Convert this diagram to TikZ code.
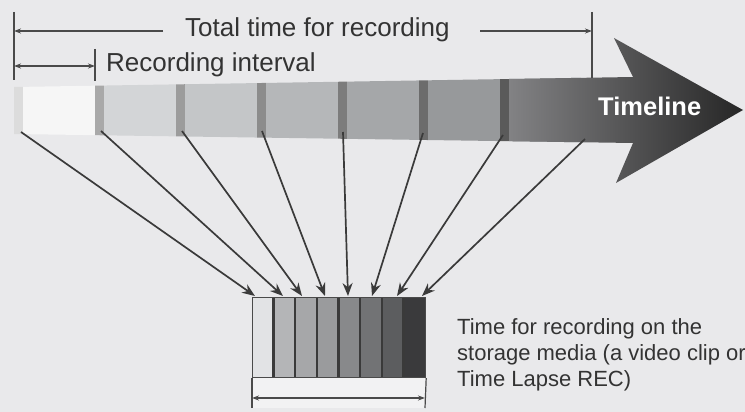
\documentclass[tikz,border=0pt]{standalone}
\usepackage{fontspec}
\setmainfont{Liberation Sans}
\usetikzlibrary{arrows.meta}
\definecolor{bg}{HTML}{E9E9EB}
\definecolor{ink}{HTML}{3A3A3A}
\definecolor{dim}{HTML}{4A4A4A}
\definecolor{txt}{HTML}{333333}
\begin{document}
\begin{tikzpicture}[x=1pt,y=-1pt,
  dimline/.style={draw=dim,line width=1.2pt},
  dimarrow/.style={dimline,-{Stealth[length=7pt,width=5pt]}},
  dimboth/.style={dimline,{Stealth[length=7pt,width=5pt]}-{Stealth[length=7pt,width=5pt]}},
  feed/.style={draw=ink,line width=1.7pt,-{Stealth[length=13pt,width=10pt]}},
  lbl/.style={inner sep=0pt,anchor=base west,text=txt,font=\fontsize{26}{30}\selectfont},
  note/.style={inner sep=0pt,anchor=base west,text=txt,font=\fontsize{22}{26}\selectfont},
  divider/.style={draw=ink,line width=2.4pt}]
\fill[bg] (0,0) rectangle (745,412);
\useasboundingbox (0,0) rectangle (745,412);

% ---------- timeline bar with arrow head ----------
\begin{scope}
  \clip (14,87) -- (633,77) -- (614,38) -- (743,110) -- (616,183) -- (633,143) -- (14,134) -- cycle;
  % stripes and blocks
  \foreach \i/\sc/\bc in {0/DCDCDC/F6F6F6, 1/A9A9A9/D3D5D7, 2/9C9C9C/C4C6C8,
                          3/8C8C8C/B5B7B9, 4/7C7C7C/A5A7A9, 5/6C6C6C/97999B, 6/5A5A5A/888A8C}{
    \pgfmathsetmacro{\xs}{14+81*\i}
    \definecolor{sc}{HTML}{\sc}
    \definecolor{bc}{HTML}{\bc}
    \fill[sc] (\xs,30) rectangle (\xs+9,190);
    \fill[bc] (\xs+9,30) rectangle (\xs+81,190);
  }
  \definecolor{gA}{HTML}{828284}
  \definecolor{gB}{HTML}{363636}
  \definecolor{gC}{HTML}{262626}
  \shade[left color=gA,middle color=gB,right color=gC] (509,30) rectangle (743,190);
\end{scope}
\node[inner sep=0pt,anchor=base west,text=white,font=\bfseries\fontsize{25.5}{30}\selectfont] (tl) at (598,115) {Timeline};

% ---------- dimension marks at the top ----------
\coordinate (t0a) at (14,12);  \coordinate (t0b) at (14,80);
\coordinate (t1a) at (592,12); \coordinate (t1b) at (592,78);
\coordinate (r1a) at (95,49);  \coordinate (r1b) at (95,81);
\draw[dimline] (t0a) -- (t0b);
\draw[dimline] (t1a) -- (t1b);
\draw[dimline] (r1a) -- (r1b);
\node[lbl] (total) at (185,37) {Total time for recording};
\node[lbl] (interval) at (106,72) {Recording interval};
\coordinate (tl0) at (14,31);  \coordinate (tl1) at (163,31);
\coordinate (tr0) at (480,31); \coordinate (tr1) at (592,31);
\draw[dimarrow] (tl1) -- (tl0);
\draw[dimarrow] (tr0) -- (tr1);
\coordinate (ri0) at (14,66); \coordinate (ri1) at (95,66);
\draw[dimboth] (ri0) -- (ri1);

% ---------- storage box ----------
\foreach \i/\c in {0/E2E3E5,1/B4B5B7,2/A6A7A9,3/9A9B9D,4/88898B,5/727375,6/5C5D5F,7/3A3A3C}{
  \definecolor{cc}{HTML}{\c}
  \fill[cc] (252+21.625*\i,297) rectangle (252+21.625*\i+21.625,377);
}
\fill[bg!60!white] (252,377) rectangle (425,408);
\foreach \i in {1,...,7}{
  \draw[divider] (252+21.625*\i,297) -- (252+21.625*\i,377);
}
\node[inner sep=0pt,minimum width=173pt,minimum height=80pt,anchor=north west,draw=dim,line width=1.2pt] (box) at (252,297) {};
\coordinate (bl) at (252,408); \coordinate (br) at (425,408);
\draw[dimline] (box.south west) -- (bl);
\draw[dimline] (box.south east) -- (br);
\coordinate (dl) at (252,398); \coordinate (dr) at (425,398);
\draw[dimboth] (dl) -- (dr);

% ---------- feed arrows ----------
\foreach \n/\sx/\sy/\ex in {1/21/132/255, 2/101/131/283, 3/182/131/302, 4/262/131/325,
                            5/343/132/348, 6/423/133/372, 7/503/135/397, 8/585/139/422}{
  \coordinate (s\n) at (\sx,\sy);
  \coordinate (e\n) at (\ex,296);
  \draw[feed] (s\n) -- (e\n);
}

% ---------- note ----------
\node[note] (n1) at (457,334) {Time for recording on the};
\node[note] (n2) at (457,360) {storage media (a video clip or};
\node[note] (n3) at (457,386) {Time Lapse REC)};
\end{tikzpicture}
\end{document}
